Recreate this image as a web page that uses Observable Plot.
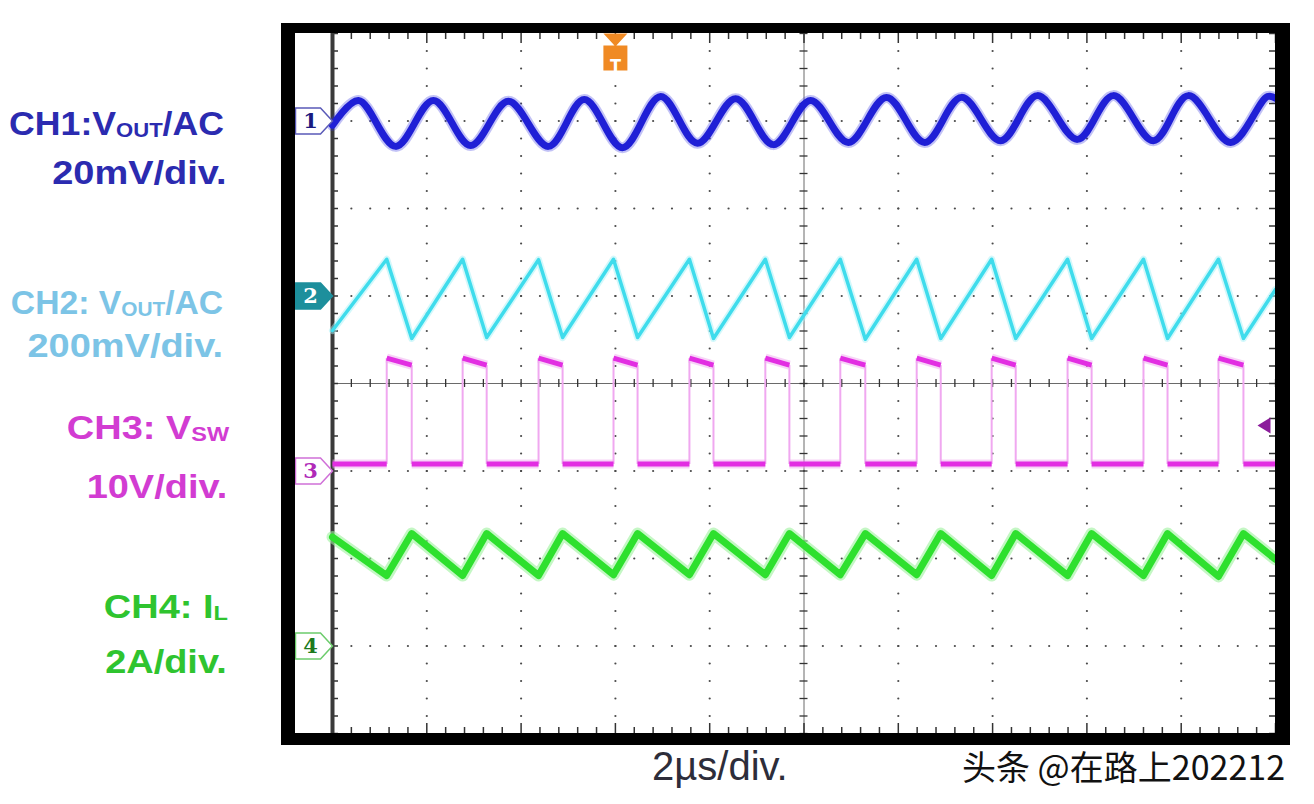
<!DOCTYPE html>
<html>
<head>
<meta charset="utf-8">
<script src="https://cdn.jsdelivr.net/npm/d3@7"></script>
<script src="https://cdn.jsdelivr.net/npm/@observablehq/plot@0.6"></script>
<style>
html,body{margin:0;padding:0;background:#fff;}
#wrap{position:relative;width:1314px;height:804px;overflow:hidden;background:#fff;font-family:"Liberation Sans",Arial,sans-serif;}
#chart{position:absolute;left:0;top:0;}
#chart svg{max-width:none;}
.frame{position:absolute;left:281px;top:23px;width:1009px;height:722px;box-sizing:border-box;border-style:solid;border-color:#000;border-width:10px 15px 12px 14px;pointer-events:none;}
.lab{position:absolute;white-space:nowrap;font-weight:bold;font-size:33px;line-height:1;transform:scaleX(1.15);transform-origin:right center;}
.sub{font-size:0.62em;vertical-align:-0.12em;}
.time{position:absolute;left:652px;top:746px;font-size:40px;line-height:1;color:#2d2d3a;white-space:nowrap;}
.wm{position:absolute;left:962px;top:749px;font-size:34px;line-height:1;color:#111;white-space:nowrap;font-family:"Noto Sans CJK SC",sans-serif;text-shadow:0 0 2px #fff,0 0 2px #fff;}
</style>
</head>
<body>
<div id="wrap">
  <div id="chart"></div>
  <div class="frame"></div>
  <div class="lab" style="right:1090px;top:107px;color:#2b2bb0;transform:scaleX(1.08)">CH1:V<span class="sub">OUT</span>/AC</div>
  <div class="lab" style="right:1087px;top:156px;color:#2b2bb0">20mV/div.</div>
  <div class="lab" style="right:1091px;top:286px;color:#7cc4e6;transform:scaleX(1.02)">CH2: V<span class="sub">OUT</span>/AC</div>
  <div class="lab" style="right:1091px;top:329px;color:#7cc4e6">200mV/div.</div>
  <div class="lab" style="right:1085px;top:411px;color:#d23cd2">CH3: V<span class="sub">SW</span></div>
  <div class="lab" style="right:1087px;top:470px;color:#d23cd2">10V/div.</div>
  <div class="lab" style="right:1086px;top:590px;color:#2fc42f">CH4: I<span class="sub">L</span></div>
  <div class="lab" style="right:1087px;top:645px;color:#2fc42f">2A/div.</div>
  <div class="time">2µs/div.</div>
  <div class="wm">头条 @在路上202212</div>
</div>
<script>
// ---- Channel settings (from the labels) ----
const channelNames = ["1", "2", "3", "4"];
const channelOffsetDiv = [3, 1, -1, -3];   // ground markers, in divisions
const channelPerDiv = [20, 200, 10, 2];      // mV, mV, V, A per division
const timePerDiv = 2;                         // µs per division
const triggerTime = 6;                        // µs
const ch3TriggerLevel = 5.2;                  // V

// ---- CH1: Vout AC (mV) ----
const ch1Time  = [0, 0.55, 1.34, 2.14, 2.93, 3.73, 4.58, 5.34, 6.15, 6.96, 7.74, 8.55, 9.35, 10.14, 10.94, 11.75, 12.56, 13.34, 14.17, 14.95, 15.80, 16.56, 17.41, 18.15, 19.05, 19.83, 20];
const ch1Value = [-1.0, 4.7, -5.8, 4.7, -5.6, 4.5, -5.8, 4.9, -6.1, 5.6, -5.1, 5.1, -5.4, 4.7, -4.9, 5.4, -4.9, 5.4, -4.5, 5.8, -4.2, 5.8, -4.5, 5.8, -4.9, 5.6, 5.2];

// ---- CH2: Vout AC (mV) ----
const ch2Time  = [0, 1.15, 1.68, 2.76, 3.27, 4.37, 4.88, 5.96, 6.47, 7.57, 8.08, 9.18, 9.69, 10.77, 11.30, 12.39, 12.90, 13.98, 14.49, 15.59, 16.10, 17.20, 17.71, 18.79, 19.32, 20];
const ch2Value = [-79, 84, -97, 84, -95, 83, -95, 84, -95, 84, -97, 84, -95, 84, -99, 84, -97, 84, -97, 84, -97, 84, -97, 84, -97, 15];

// ---- CH3: Vsw (V) ----
const ch3Rise = [1.15, 2.76, 4.37, 5.96, 7.57, 9.18, 10.77, 12.39, 13.98, 15.59, 17.20, 18.79];
const ch3Fall = [1.68, 3.27, 4.88, 6.47, 8.08, 9.69, 11.30, 12.90, 14.49, 16.10, 17.71, 19.32];
const ch3Low = 0.8;
const ch3HighStart = 12.9;
const ch3HighEnd = 12.1;

// ---- CH4: IL (A) ----
const ch4Time  = [0, 1.15, 1.68, 2.76, 3.27, 4.37, 4.88, 5.96, 6.47, 7.57, 8.08, 9.18, 9.69, 10.77, 11.30, 12.39, 12.90, 13.98, 14.49, 15.59, 16.10, 17.20, 17.71, 18.79, 19.32, 20];
const ch4Value = [2.49, 1.61, 2.57, 1.61, 2.57, 1.61, 2.57, 1.63, 2.57, 1.63, 2.57, 1.63, 2.57, 1.63, 2.57, 1.63, 2.57, 1.61, 2.57, 1.61, 2.57, 1.61, 2.57, 1.59, 2.57, 1.98];

// ---- styles ----
const traceColor = ["#1f1fd6", "#3fdcec", "#e22ee2", "#2ee02e"];
const glowColor  = ["#3434e0", "#a8f2f8", "#f0a8f0", "#9cf29c"];

// ---- tables ----
const toDiv = (ch, v) => channelOffsetDiv[ch] + v / channelPerDiv[ch];
const ch1 = ch1Time.map((t, i) => ({t, v: toDiv(0, ch1Value[i])}));
const ch2 = ch2Time.map((t, i) => ({t, v: toDiv(1, ch2Value[i])}));
const ch4 = ch4Time.map((t, i) => ({t, v: toDiv(3, ch4Value[i])}));
const ch3Edges = ch3Rise.flatMap((r, i) => [
  {t: r, a: toDiv(2, ch3Low), b: toDiv(2, ch3HighStart)},
  {t: ch3Fall[i], a: toDiv(2, ch3Low), b: toDiv(2, ch3HighEnd)}
]);
const ch3Highs = ch3Rise.map((r, i) => ({t1: r, t2: ch3Fall[i], v1: toDiv(2, ch3HighStart), v2: toDiv(2, ch3HighEnd)}));
const lowStarts = [0, ...ch3Fall];
const lowEnds = [...ch3Rise, 10 * timePerDiv];
const ch3Lows = lowStarts.map((s, i) => ({t1: s, t2: lowEnds[i], v: toDiv(2, ch3Low)}));

const markers = channelNames.map((n, i) => ({n, y: channelOffsetDiv[i]}));
const markerFill   = ["#ffffff", "#1d8f9c", "#ffffff", "#ffffff"];
const markerStroke = ["#5a5ab8", "#1d8f9c", "#d070d8", "#6ccc6c"];
const markerText   = ["#1a1a80", "#ffffff", "#b02ab8", "#1d7a1d"];

// ---- graticule ----
const kx = 20 / 943, ky = 8 / 700; // data units per pixel
const xMinor = d3.range(0, 20.0001, 0.4);
const yMinor = d3.range(-4, 4.0001, 0.2);
const isMajor = (d, step) => Math.abs(d / step - Math.round(d / step)) < 1e-6;
const rowDots = [-3, -2, -1, 1, 2, 3].flatMap(y => xMinor.filter(x => x > 0.01 && x < 19.99).map(x => ({x, y})));
const colDots = [2, 4, 6, 8, 12, 14, 16, 18].flatMap(x => yMinor.filter(y => Math.abs(y) < 3.99).map(y => ({x, y})));

const flag = {draw(ctx) { ctx.moveTo(-37, -13); ctx.lineTo(-12, -13); ctx.lineTo(0, 0); ctx.lineTo(-12, 13); ctx.lineTo(-37, 13); ctx.closePath(); }};
const trig = {draw(ctx) {
  ctx.moveTo(-12, 0); ctx.lineTo(12, 0); ctx.lineTo(0, 13); ctx.closePath();
  ctx.moveTo(-12, 12); ctx.lineTo(12, 12); ctx.lineTo(12, 37); ctx.lineTo(-12, 37); ctx.closePath();
}};
const leftArrow = {draw(ctx) { ctx.moveTo(-18, 0); ctx.lineTo(-5, -8); ctx.lineTo(-5, 8); ctx.closePath(); }};

const plot = Plot.plot({
  width: 1314, height: 804,
  marginLeft: 332, marginRight: 39, marginTop: 33, marginBottom: 71,
  x: {domain: [0, 10 * timePerDiv], axis: null},
  y: {domain: [-4, 4], axis: null},
  style: {background: "transparent", overflow: "visible"},
  marks: [
    // graticule dots
    Plot.dot(rowDots, {x: "x", y: "y", r: 1.1, fill: "#4a4a4a"}),
    Plot.dot(colDots, {x: "x", y: "y", r: 1.1, fill: "#4a4a4a"}),
    // centre axes
    Plot.ruleY([0], {stroke: "#6a6a6a", strokeWidth: 1}),
    Plot.ruleX([10], {stroke: "#6a6a6a", strokeWidth: 1}),
    Plot.ruleX(xMinor, {x: d => d, y1: -4 * ky, y2: 4 * ky, stroke: "#333", strokeWidth: 1.3}),
    Plot.ruleY(yMinor, {y: d => d, x1: 10 - 4 * kx, x2: 10 + 4 * kx, stroke: "#333", strokeWidth: 1.3}),
    // edge ticks
    Plot.ruleX(xMinor, {x: d => d, y1: 4, y2: d => 4 - (isMajor(d, 2) ? 10 : 6) * ky, stroke: "#333", strokeWidth: 1.5}),
    Plot.ruleX(xMinor, {x: d => d, y1: -4, y2: d => -4 + (isMajor(d, 2) ? 10 : 6) * ky, stroke: "#333", strokeWidth: 1.5}),
    Plot.ruleY(yMinor, {y: d => d, x1: 20, x2: 20 - 6 * kx, stroke: "#333", strokeWidth: 1.5}),
    Plot.ruleY(yMinor, {y: d => d, x1: 0, x2: 6 * kx, stroke: "#333", strokeWidth: 1.5}),
    Plot.ruleX([0], {stroke: "#3a3a3a", strokeWidth: 4}),
    // CH1
    Plot.line(ch1, {x: "t", y: "v", stroke: glowColor[0], strokeWidth: 11, strokeOpacity: 0.3, curve: "catmull-rom"}),
    Plot.line(ch1, {x: "t", y: "v", stroke: traceColor[0], strokeWidth: 7, curve: "catmull-rom"}),
    // CH2
    Plot.line(ch2, {x: "t", y: "v", stroke: glowColor[1], strokeWidth: 7, strokeOpacity: 0.5}),
    Plot.line(ch2, {x: "t", y: "v", stroke: traceColor[1], strokeWidth: 3.5}),
    // CH3
    Plot.link(ch3Edges, {x1: "t", x2: "t", y1: "a", y2: "b", stroke: glowColor[2], strokeWidth: 2}),
    Plot.link(ch3Lows, {x1: "t1", x2: "t2", y1: "v", y2: "v", stroke: glowColor[2], strokeWidth: 9, strokeOpacity: 0.5}),
    Plot.link(ch3Highs, {x1: "t1", x2: "t2", y1: "v1", y2: "v2", stroke: glowColor[2], strokeWidth: 9, strokeOpacity: 0.5}),
    Plot.link(ch3Lows, {x1: "t1", x2: "t2", y1: "v", y2: "v", stroke: traceColor[2], strokeWidth: 5}),
    Plot.link(ch3Highs, {x1: "t1", x2: "t2", y1: "v1", y2: "v2", stroke: traceColor[2], strokeWidth: 5}),
    // CH4
    Plot.line(ch4, {x: "t", y: "v", stroke: glowColor[3], strokeWidth: 12, strokeOpacity: 0.6}),
    Plot.line(ch4, {x: "t", y: "v", stroke: traceColor[3], strokeWidth: 7}),
    // channel ground markers
    Plot.dot(markers, {x: 0, y: "y", symbol: flag, fill: (d, i) => markerFill[i], stroke: (d, i) => markerStroke[i], strokeWidth: 1.5}),
    Plot.text(markers, {x: 0, y: "y", text: "n", dx: -22, fill: (d, i) => markerText[i], fontSize: 21, fontWeight: "bold", fontFamily: "DejaVu Serif"}),
    // trigger markers
    Plot.dot([triggerTime], {x: d => d, frameAnchor: "top", symbol: trig, fill: "#f08a24"}),
    Plot.text([triggerTime], {x: d => d, frameAnchor: "top", text: () => "T", dy: 25, fill: "#fff", fontSize: 20, fontWeight: "bold"}),
    Plot.dot([ch3TriggerLevel], {frameAnchor: "right", y: d => toDiv(2, d), symbol: leftArrow, fill: "#8b1c9b"})
  ]
});
document.getElementById("chart").appendChild(plot);
</script>
</body>
</html>
